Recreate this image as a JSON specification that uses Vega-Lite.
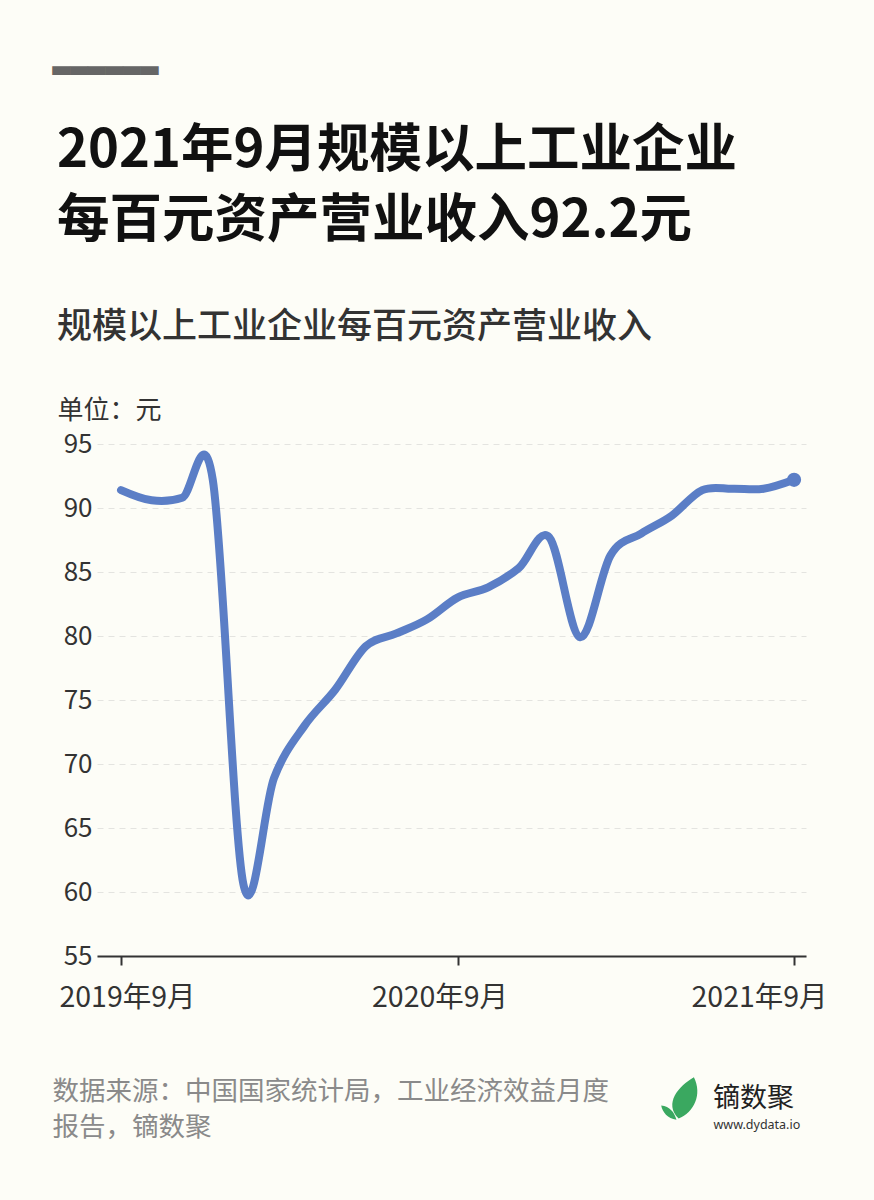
{
  "$schema": "https://vega.github.io/schema/vega-lite/v6.json",
  "autosize": {"type": "none"},
  "width": 709,
  "height": 512,
  "padding": {"left": 97, "top": 444, "right": 68, "bottom": 244},
  "background": "#fdfdf7",
  "config": {"view": {"stroke": null}, "font": "Noto Sans CJK SC"},
  "title": {
    "text": ["2021年9月规模以上工业企业", "每百元资产营业收入92.2元"],
    "subtitle": "规模以上工业企业每百元资产营业收入",
    "anchor": "start",
    "frame": "group",
    "orient": "top",
    "dx": -40,
    "offset": -302,
    "font": "Noto Sans CJK SC",
    "fontSize": 52.5,
    "fontWeight": "bold",
    "color": "#111111",
    "lineHeight": 70,
    "subtitleFont": "Noto Sans CJK SC",
    "subtitleFontSize": 35,
    "subtitleColor": "#333333",
    "subtitleFontWeight": 500,
    "subtitlePadding": 62
  },
  "data": {
    "values": [
      {"i": 0, "month": "2019-09", "value": 91.4},
      {"i": 1, "month": "2019-10", "value": 90.6},
      {"i": 2, "month": "2019-11", "value": 90.8},
      {"i": 3, "month": "2019-12", "value": 92.2},
      {"i": 4, "month": "2020-02", "value": 60.6},
      {"i": 5, "month": "2020-03", "value": 68.9},
      {"i": 6, "month": "2020-04", "value": 73.0},
      {"i": 7, "month": "2020-05", "value": 75.8},
      {"i": 8, "month": "2020-06", "value": 79.2},
      {"i": 9, "month": "2020-07", "value": 80.2},
      {"i": 10, "month": "2020-08", "value": 81.3},
      {"i": 11, "month": "2020-09", "value": 83.0},
      {"i": 12, "month": "2020-10", "value": 83.8},
      {"i": 13, "month": "2020-11", "value": 85.3},
      {"i": 14, "month": "2020-12", "value": 87.7},
      {"i": 15, "month": "2021-02", "value": 79.9},
      {"i": 16, "month": "2021-03", "value": 86.3},
      {"i": 17, "month": "2021-04", "value": 88.0},
      {"i": 18, "month": "2021-05", "value": 89.4},
      {"i": 19, "month": "2021-06", "value": 91.4},
      {"i": 20, "month": "2021-07", "value": 91.5},
      {"i": 21, "month": "2021-08", "value": 91.5},
      {"i": 22, "month": "2021-09", "value": 92.2}
    ]
  },
  "layer": [
    {
      "mark": {"type": "line", "interpolate": "cardinal", "strokeWidth": 8, "color": "#5b7ec6", "strokeCap": "round", "strokeJoin": "round"},
      "encoding": {
        "x": {
          "field": "i", "type": "quantitative",
          "scale": {"domain": [-0.785, 22.39], "nice": false, "zero": false},
          "axis": {
            "values": [0, 11, 22],
            "labelExpr": "datum.value == 0 ? '2019年9月' : (datum.value == 11 ? '2020年9月' : '2021年9月')",
            "grid": false,
            "domainColor": "#333333", "domainWidth": 2,
            "tickColor": "#333333", "tickWidth": 2, "tickSize": 9,
            "labelFontSize": 28.5, "labelColor": "#333333", "labelPadding": 18, "labelFont": "Noto Sans CJK SC",
            "labelOffset": {"expr": "datum.value == 0 ? 6 : (datum.value == 11 ? -18 : -35)"},
            "title": ["数据来源：中国国家统计局，工业经济效益月度", "报告，镝数聚"],
            "titleX": -45, "titleY": 143, "titleAlign": "left", "titleAnchor": "start", "titleBaseline": "alphabetic",
            "titleFontSize": 26.5, "titleFontWeight": "normal", "titleColor": "#8a8a8a", "titleLineHeight": 36
          }
        },
        "y": {
          "field": "value", "type": "quantitative",
          "scale": {"domain": [55, 95], "nice": false, "zero": false},
          "axis": {
            "values": [55, 60, 65, 70, 75, 80, 85, 90, 95],
            "grid": true, "gridDash": [6, 5], "gridColor": "#e4e4e0", "gridWidth": 1,
            "domain": false, "ticks": false, "tickSize": 0,
            "labelPadding": 5, "labelFontSize": 26, "labelColor": "#333333", "labelFont": "Noto Sans CJK SC",
            "title": "单位：元", "titleAngle": 0, "titleX": -40, "titleY": -26, "titleAlign": "left", "titleBaseline": "alphabetic",
            "titleFontSize": 26, "titleFontWeight": "normal", "titleColor": "#333333"
          }
        }
      }
    },
    {
      "transform": [{"filter": "datum.i == 22"}],
      "mark": {"type": "point", "filled": true, "size": 200, "opacity": 1, "color": "#5b7ec6"},
      "encoding": {
        "x": {
          "field": "i", "type": "quantitative",
          "axis": {
            "orient": "top", "domain": false, "ticks": false, "labels": false, "grid": false,
            "title": "▂▂▂▂▂▂", "titleFont": "DejaVu Sans Mono", "titleFontSize": 29.3, "titleColor": "#666666",
            "titleX": -45, "titleY": -377, "titleAlign": "left", "titleBaseline": "alphabetic", "titleFontWeight": "normal"
          }
        },
        "y": {
          "field": "value", "type": "quantitative",
          "axis": {
            "orient": "right", "domain": false, "ticks": false, "labels": false, "grid": false,
            "title": "www.dydata.io", "titleAngle": 0, "titleX": -93, "titleY": 684, "titleAlign": "left", "titleBaseline": "alphabetic",
            "titleFontSize": 12.5, "titleColor": "#333333", "titleFontWeight": "normal", "titleFont": "Noto Sans"
          }
        }
      }
    },
    {
      "transform": [{"filter": "datum.i == 22"}],
      "mark": {"type": "point", "filled": true, "size": 0},
      "encoding": {
        "x": {"field": "i", "type": "quantitative", "axis": null},
        "y": {"field": "value", "type": "quantitative", "axis": null},
        "color": {
          "datum": "镝数聚",
          "scale": {"domain": ["镝数聚"], "range": ["#3aa860"]},
          "legend": {
            "orient": "none", "legendX": 564, "legendY": 633, "title": null, "padding": 0,
            "symbolType": "M-0.2,0.9 C-0.9,0.2 -0.2,-0.6 0.5,-1 C0.9,-0.2 0.5,0.6 -0.2,0.9 Z M-0.3,0.95 C-0.7,0.9 -0.95,0.6 -1,0.3 C-0.6,0.35 -0.4,0.6 -0.3,0.95 Z",
            "symbolSize": 1900, "symbolOpacity": 1, "symbolStrokeWidth": 0,
            "labelFontSize": 27, "labelColor": "#222222", "labelOffset": 8, "labelFont": "Noto Sans CJK SC"
          }
        }
      }
    }
  ],
  "resolve": {"axis": {"x": "independent", "y": "independent"}}
}
